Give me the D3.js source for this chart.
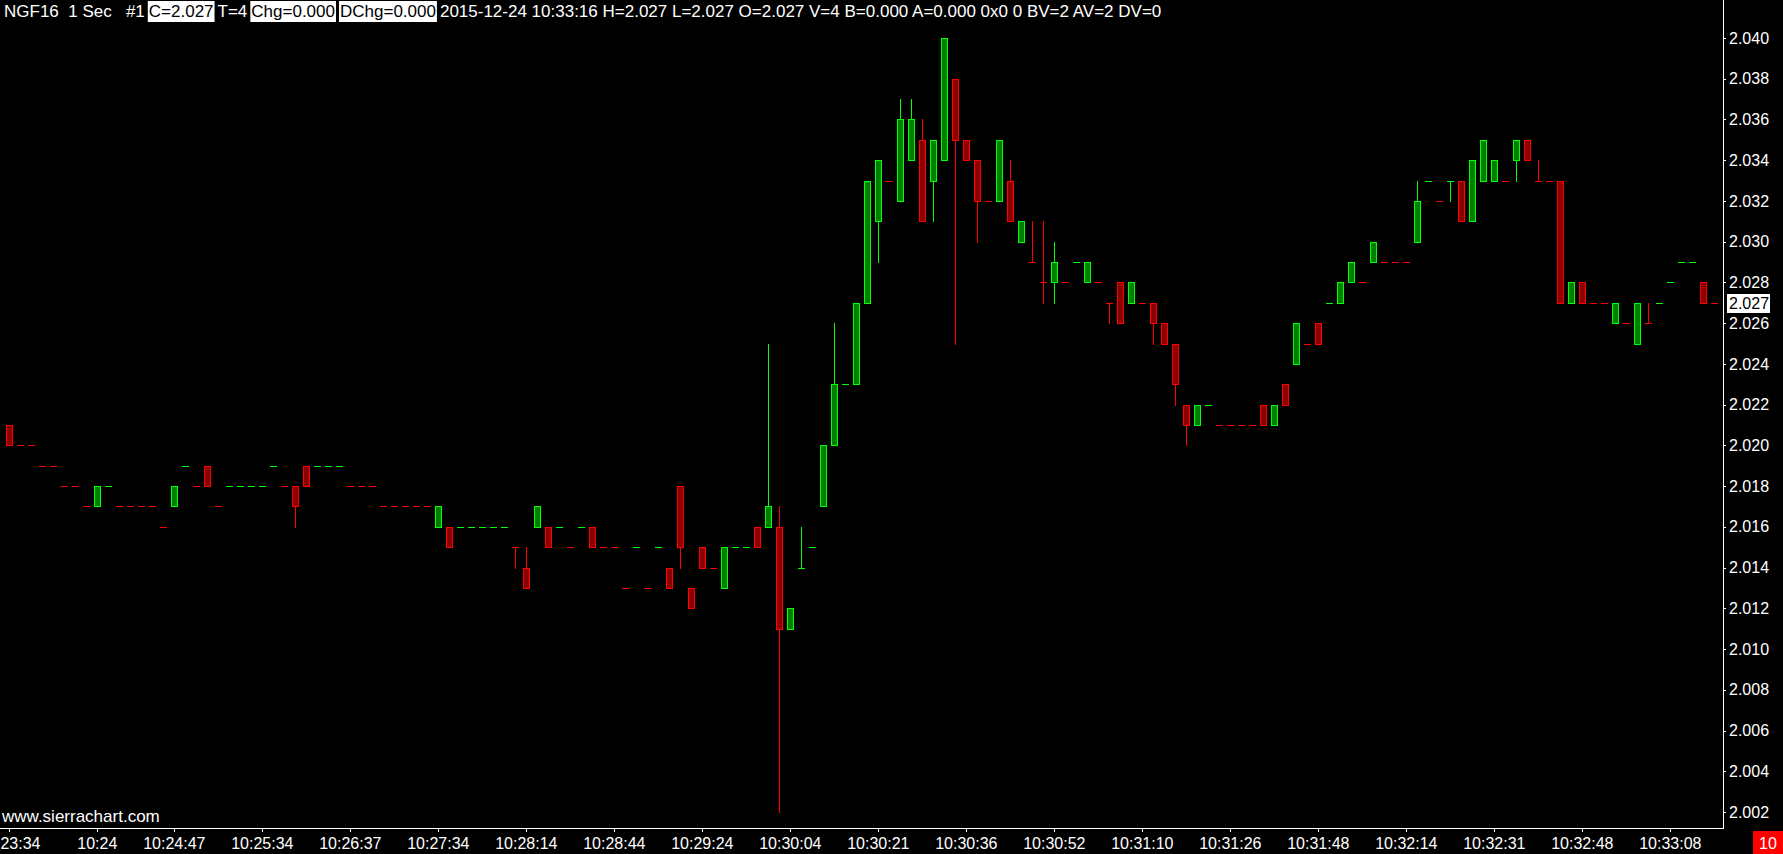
<!DOCTYPE html>
<html>
<head>
<meta charset="utf-8">
<script src="https://cdn.jsdelivr.net/npm/d3@7"></script>
<style>
  html, body { margin: 0; padding: 0; background: #000; overflow: hidden; }
  svg { display: block; font-family: "Liberation Sans", Arial, sans-serif; }
  text { white-space: pre; }
</style>
</head>
<body>
<div id="chart"></div>
<script>
const svgWidth = 1783;
const svgHeight = 854;
const plotRight = 1723;
const plotBottom = 828;

// 1 second bars, NGF16, 2015-12-24 10:23:34 .. 10:33:16
const openPx = [
  2.021, 2.020, 2.020, 2.019, 2.019, 2.018, 2.018, 2.017, 2.017, 2.018,
  2.017, 2.017, 2.017, 2.017, 2.016, 2.017, 2.019, 2.018, 2.019, 2.017,
  2.018, 2.018, 2.018, 2.018, 2.019, 2.018, 2.018, 2.019, 2.019, 2.019,
  2.019, 2.018, 2.018, 2.018, 2.017, 2.017, 2.017, 2.017, 2.017, 2.016,
  2.016, 2.016, 2.016, 2.016, 2.016, 2.016, 2.015, 2.014, 2.016, 2.016,
  2.016, 2.015, 2.016, 2.016, 2.015, 2.015, 2.013, 2.015, 2.013, 2.015,
  2.014, 2.018, 2.013, 2.015, 2.014, 2.013, 2.015, 2.015, 2.016, 2.016,
  2.016, 2.011, 2.014, 2.015, 2.017, 2.020, 2.023, 2.023, 2.027, 2.031,
  2.033, 2.032, 2.034, 2.035, 2.033, 2.034, 2.038, 2.035, 2.034, 2.032,
  2.032, 2.033, 2.030, 2.029, 2.028, 2.028, 2.028, 2.029, 2.028, 2.028,
  2.027, 2.028, 2.027, 2.027, 2.027, 2.026, 2.025, 2.022, 2.021, 2.022,
  2.021, 2.021, 2.021, 2.021, 2.022, 2.021, 2.023, 2.024, 2.025, 2.026,
  2.027, 2.027, 2.028, 2.028, 2.029, 2.029, 2.029, 2.029, 2.030, 2.033,
  2.032, 2.033, 2.033, 2.031, 2.033, 2.033, 2.033, 2.034, 2.035, 2.033,
  2.033, 2.033, 2.027, 2.028, 2.027, 2.027, 2.026, 2.026, 2.025, 2.026,
  2.027, 2.028, 2.029, 2.029, 2.028, 2.027
];
const highPx = [
  2.021, 2.020, 2.020, 2.019, 2.019, 2.018, 2.018, 2.017, 2.018, 2.018,
  2.017, 2.017, 2.017, 2.017, 2.016, 2.018, 2.019, 2.018, 2.019, 2.017,
  2.018, 2.018, 2.018, 2.018, 2.019, 2.018, 2.018, 2.019, 2.019, 2.019,
  2.019, 2.018, 2.018, 2.018, 2.017, 2.017, 2.017, 2.017, 2.017, 2.017,
  2.016, 2.016, 2.016, 2.016, 2.016, 2.016, 2.015, 2.015, 2.017, 2.016,
  2.016, 2.015, 2.016, 2.016, 2.015, 2.015, 2.013, 2.015, 2.013, 2.015,
  2.014, 2.018, 2.013, 2.015, 2.014, 2.015, 2.015, 2.015, 2.016, 2.025,
  2.017, 2.012, 2.016, 2.015, 2.020, 2.026, 2.023, 2.027, 2.033, 2.034,
  2.033, 2.037, 2.037, 2.036, 2.035, 2.040, 2.038, 2.035, 2.034, 2.032,
  2.035, 2.034, 2.031, 2.031, 2.031, 2.030, 2.028, 2.029, 2.029, 2.028,
  2.027, 2.028, 2.028, 2.027, 2.027, 2.026, 2.025, 2.022, 2.022, 2.022,
  2.021, 2.021, 2.021, 2.021, 2.022, 2.022, 2.023, 2.026, 2.025, 2.026,
  2.027, 2.028, 2.029, 2.028, 2.030, 2.029, 2.029, 2.029, 2.033, 2.033,
  2.032, 2.033, 2.033, 2.034, 2.035, 2.034, 2.033, 2.035, 2.035, 2.034,
  2.033, 2.033, 2.028, 2.028, 2.027, 2.027, 2.027, 2.026, 2.027, 2.027,
  2.027, 2.028, 2.029, 2.029, 2.028, 2.027
];
const lowPx = [
  2.020, 2.020, 2.020, 2.019, 2.019, 2.018, 2.018, 2.017, 2.017, 2.018,
  2.017, 2.017, 2.017, 2.017, 2.016, 2.017, 2.019, 2.018, 2.018, 2.017,
  2.018, 2.018, 2.018, 2.018, 2.019, 2.018, 2.016, 2.018, 2.019, 2.019,
  2.019, 2.018, 2.018, 2.018, 2.017, 2.017, 2.017, 2.017, 2.017, 2.016,
  2.015, 2.016, 2.016, 2.016, 2.016, 2.016, 2.014, 2.013, 2.016, 2.015,
  2.016, 2.015, 2.016, 2.015, 2.015, 2.015, 2.013, 2.015, 2.013, 2.015,
  2.013, 2.014, 2.012, 2.014, 2.014, 2.013, 2.015, 2.015, 2.015, 2.016,
  2.002, 2.011, 2.014, 2.015, 2.017, 2.020, 2.023, 2.023, 2.027, 2.029,
  2.033, 2.032, 2.034, 2.031, 2.031, 2.034, 2.025, 2.034, 2.030, 2.032,
  2.032, 2.031, 2.030, 2.029, 2.027, 2.027, 2.028, 2.029, 2.028, 2.028,
  2.026, 2.026, 2.027, 2.027, 2.025, 2.025, 2.022, 2.020, 2.021, 2.022,
  2.021, 2.021, 2.021, 2.021, 2.021, 2.021, 2.022, 2.024, 2.025, 2.025,
  2.027, 2.027, 2.028, 2.028, 2.029, 2.029, 2.029, 2.029, 2.030, 2.033,
  2.032, 2.032, 2.031, 2.031, 2.033, 2.033, 2.033, 2.033, 2.034, 2.033,
  2.033, 2.027, 2.027, 2.027, 2.027, 2.027, 2.026, 2.026, 2.025, 2.026,
  2.027, 2.028, 2.029, 2.029, 2.027, 2.027
];
const closePx = [
  2.020, 2.020, 2.020, 2.019, 2.019, 2.018, 2.018, 2.017, 2.018, 2.018,
  2.017, 2.017, 2.017, 2.017, 2.016, 2.018, 2.019, 2.018, 2.018, 2.017,
  2.018, 2.018, 2.018, 2.018, 2.019, 2.018, 2.017, 2.018, 2.019, 2.019,
  2.019, 2.018, 2.018, 2.018, 2.017, 2.017, 2.017, 2.017, 2.017, 2.017,
  2.015, 2.016, 2.016, 2.016, 2.016, 2.016, 2.015, 2.013, 2.017, 2.015,
  2.016, 2.015, 2.016, 2.015, 2.015, 2.015, 2.013, 2.015, 2.013, 2.015,
  2.013, 2.015, 2.012, 2.014, 2.014, 2.015, 2.015, 2.015, 2.015, 2.017,
  2.011, 2.012, 2.014, 2.015, 2.020, 2.023, 2.023, 2.027, 2.033, 2.034,
  2.033, 2.036, 2.036, 2.031, 2.035, 2.040, 2.035, 2.034, 2.032, 2.032,
  2.035, 2.031, 2.031, 2.029, 2.028, 2.029, 2.028, 2.029, 2.029, 2.028,
  2.027, 2.026, 2.028, 2.027, 2.026, 2.025, 2.023, 2.021, 2.022, 2.022,
  2.021, 2.021, 2.021, 2.021, 2.021, 2.022, 2.022, 2.026, 2.025, 2.025,
  2.027, 2.028, 2.029, 2.028, 2.030, 2.029, 2.029, 2.029, 2.032, 2.033,
  2.032, 2.033, 2.031, 2.034, 2.035, 2.034, 2.033, 2.035, 2.034, 2.033,
  2.033, 2.027, 2.028, 2.027, 2.027, 2.027, 2.027, 2.026, 2.027, 2.026,
  2.027, 2.028, 2.029, 2.029, 2.027, 2.027
];

const tickBars = [0, 8, 15, 23, 31, 39, 47, 55, 63, 71, 79, 87, 95, 103, 111, 119, 127, 135, 143, 151];
const tickLabels = ["10:23:34", "10:24", "10:24:47", "10:25:34", "10:26:37", "10:27:34", "10:28:14",
  "10:28:44", "10:29:24", "10:30:04", "10:30:21", "10:30:36", "10:30:52", "10:31:10", "10:31:26",
  "10:31:48", "10:32:14", "10:32:31", "10:32:48", "10:33:08"];
const priceTicks = [2.002, 2.004, 2.006, 2.008, 2.010, 2.012, 2.014, 2.016, 2.018, 2.020,
  2.022, 2.024, 2.026, 2.028, 2.030, 2.032, 2.034, 2.036, 2.038, 2.040];
const lastPrice = 2.027;
const headerItems = [
  { text: "NGF16  1 Sec   #1", boxed: false },
  { text: "C=2.027", boxed: true },
  { text: "T=4", boxed: false },
  { text: "Chg=0.000", boxed: true },
  { text: "DChg=0.000", boxed: true },
  { text: "2015-12-24 10:33:16 H=2.027 L=2.027 O=2.027 V=4 B=0.000 A=0.000 0x0 0 BV=2 AV=2 DV=0", boxed: false }
];
const counterText = "10";

const upLine = "#00ff00", upFill = "#008000";
const dnLine = "#ff0000", dnFill = "#8b0000";

let svg = d3.select("#chart").append("svg")
  .attr("width", svgWidth).attr("height", svgHeight);
svg.append("rect").attr("width", svgWidth).attr("height", svgHeight).attr("fill", "#000");

let x = d3.scaleBand()
  .domain(d3.range(closePx.length))
  .range([3.8, 3.8 + 11 * closePx.length]);
let y = d3.scaleLinear()
  .domain([2.002, 2.040])
  .range([812, 38]);

// bar direction: body colour, flat bars follow the tick direction
let bars = closePx.map((c, i) => ({ i: i, o: openPx[i], h: highPx[i], l: lowPx[i], c: c }));
bars.forEach((d, i) => {
  if (d.c > d.o) d.up = true;
  else if (d.c < d.o) d.up = false;
  else if (i == 0) d.up = false;
  else if (d.c > bars[i - 1].c) d.up = true;
  else if (d.c < bars[i - 1].c) d.up = false;
  else d.up = bars[i - 1].up;
});

let cxOf = d => Math.round(x(d.i) + x.bandwidth() / 2);
let py = v => Math.round(y(v));

let chrt = svg.append("g").attr("shape-rendering", "crispEdges");

// wicks
chrt.selectAll("line.wick")
  .data(bars.filter(d => d.h > Math.max(d.o, d.c) || d.l < Math.min(d.o, d.c)))
  .enter().append("line")
  .classed("wick", true)
  .attr("x1", d => cxOf(d) + 0.5)
  .attr("x2", d => cxOf(d) + 0.5)
  .attr("y1", d => py(d.h))
  .attr("y2", d => py(d.l) + 1)
  .attr("stroke", d => d.up ? upLine : dnLine)
  .attr("stroke-width", 1);

// candle bodies
chrt.selectAll("rect.body")
  .data(bars.filter(d => d.o != d.c))
  .enter().append("rect")
  .classed("body", true)
  .attr("x", d => cxOf(d) - 3 + 0.5)
  .attr("y", d => py(Math.max(d.o, d.c)) + 0.5)
  .attr("width", 6)
  .attr("height", d => py(Math.min(d.o, d.c)) - py(Math.max(d.o, d.c)))
  .attr("fill", d => d.up ? upFill : dnFill)
  .attr("stroke", d => d.up ? upLine : dnLine)
  .attr("stroke-width", 1);

// open == close
chrt.selectAll("line.flat")
  .data(bars.filter(d => d.o == d.c))
  .enter().append("line")
  .classed("flat", true)
  .attr("x1", d => cxOf(d) - 3)
  .attr("x2", d => cxOf(d) + 4)
  .attr("y1", d => py(d.c) + 0.5)
  .attr("y2", d => py(d.c) + 0.5)
  .attr("stroke", d => d.up ? upLine : dnLine)
  .attr("stroke-width", 1);

// axes
let yAxis = svg.append("g")
  .attr("transform", `translate(${plotRight}, 0)`)
  .call(d3.axisRight(y).tickValues(priceTicks).tickFormat(d3.format(".3f")).tickSize(3).tickPadding(3));
let xAxis = svg.append("g")
  .attr("transform", `translate(0, ${plotBottom})`)
  .call(d3.axisBottom(x).tickValues(tickBars).tickFormat((d, i) => tickLabels[i]).tickSize(4).tickPadding(5));
[yAxis, xAxis].forEach(a => {
  a.select(".domain").remove();
  a.selectAll("line").attr("stroke", "#fff").attr("shape-rendering", "crispEdges");
  a.selectAll("text").attr("fill", "#fff").attr("font-size", 16).attr("font-family", null);
});
xAxis.selectAll("text").attr("dy", "0.78em");

svg.append("line")
  .attr("x1", plotRight + 0.5).attr("x2", plotRight + 0.5)
  .attr("y1", 0).attr("y2", plotBottom + 1)
  .attr("stroke", "#fff").attr("shape-rendering", "crispEdges");
svg.append("line")
  .attr("x1", 0).attr("x2", plotRight + 1)
  .attr("y1", plotBottom + 0.5).attr("y2", plotBottom + 0.5)
  .attr("stroke", "#fff").attr("shape-rendering", "crispEdges");

// last price marker
let lp = svg.append("g").attr("transform", `translate(${plotRight + 4}, ${py(lastPrice)})`);
lp.append("rect").attr("x", 0).attr("y", -9).attr("width", 43).attr("height", 19).attr("fill", "#fff");
lp.append("text").attr("x", 2).attr("y", 0).attr("dy", "0.35em")
  .attr("font-size", 16).attr("fill", "#000").text(d3.format(".3f")(lastPrice));

// counter box, bottom right
svg.append("rect").attr("x", 1753).attr("y", 831).attr("width", 30).attr("height", 23).attr("fill", "#ff0000");
svg.append("text").attr("x", 1768).attr("y", 849).attr("text-anchor", "middle")
  .attr("font-size", 16).attr("fill", "#fff").text(counterText);

svg.append("text").attr("x", 2).attr("y", 822)
  .attr("font-size", 17).attr("fill", "#fff").text("www.sierrachart.com");

// header line
let hdr = svg.append("g");
let hx = 4;
headerItems.forEach(d => {
  let t = hdr.append("text")
    .attr("x", hx + (d.boxed ? 1 : 0))
    .attr("y", 17)
    .attr("font-size", 17)
    .attr("fill", d.boxed ? "#000" : "#fff")
    .text(d.text);
  let w = t.node().getComputedTextLength();
  if (d.boxed) {
    hdr.insert("rect", "text")
      .attr("x", hx).attr("y", 1)
      .attr("width", w + 2).attr("height", 21)
      .attr("fill", "#fff");
    w += 2;
  }
  hx += w + 3;
});
</script>
</body>
</html>
